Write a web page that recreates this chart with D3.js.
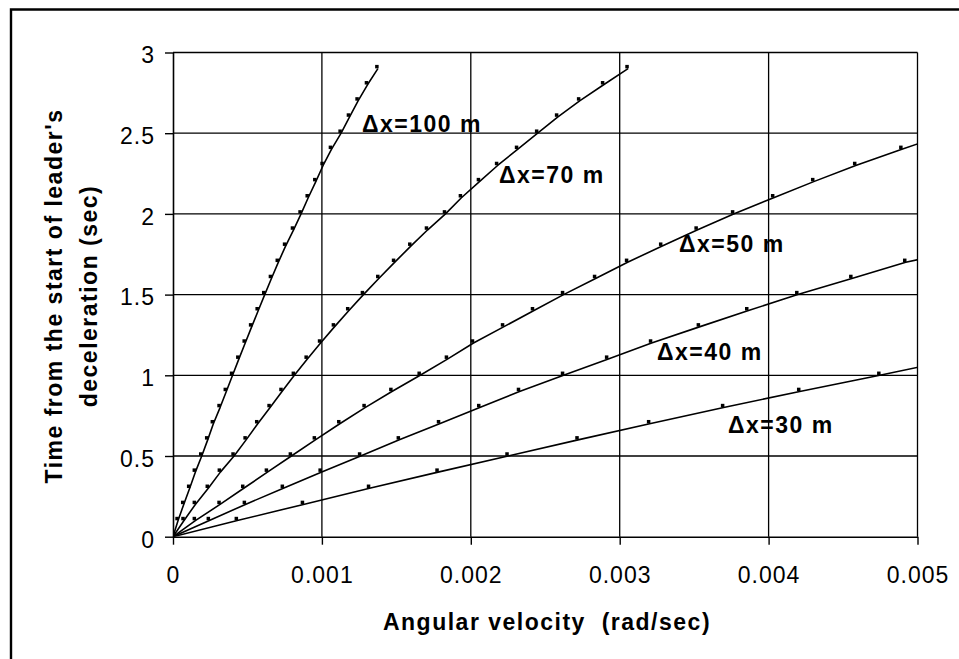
<!DOCTYPE html>
<html>
<head>
<meta charset="utf-8">
<script src="https://cdn.jsdelivr.net/npm/d3@7"></script>
<style>
  html, body { margin: 0; padding: 0; background: #fff; }
  svg { display: block; }
</style>
</head>
<body>
<svg id="chart" width="959" height="659"></svg>
<script>
// ---------------- DATA ----------------
// Angular velocity (rad/sec) vs time from start of leader's deceleration (sec)
const seriesNames = ["Δx=100 m", "Δx=70 m", "Δx=50 m", "Δx=40 m", "Δx=30 m"];

const origin = [0, 0];

const dx100 = [
  [0.000034,0.1],[0.000072,0.2],[0.000112,0.3],[0.000150,0.4],[0.000193,0.5],
  [0.000233,0.6],[0.000271,0.7],[0.000316,0.8],[0.000358,0.9],[0.000400,1.0],
  [0.000442,1.1],[0.000485,1.2],[0.000528,1.3],[0.000572,1.4],[0.000616,1.5],
  [0.000661,1.6],[0.000707,1.7],[0.000756,1.8],[0.000809,1.9],[0.000860,2.0],
  [0.000908,2.1],[0.000959,2.2],[0.001008,2.3],[0.001064,2.4],[0.001129,2.5],
  [0.001185,2.6],[0.001243,2.7],[0.001306,2.8],[0.001376,2.9]
];
const dx70 = [
  [0.000074,0.1],[0.000150,0.2],[0.000237,0.3],[0.000318,0.4],[0.000410,0.5],
  [0.000491,0.6],[0.000569,0.7],[0.000652,0.8],[0.000732,0.9],[0.000815,1.0],
  [0.000901,1.1],[0.000991,1.2],[0.001084,1.3],[0.001180,1.4],[0.001279,1.5],
  [0.001382,1.6],[0.001488,1.7],[0.001597,1.8],[0.001709,1.9],[0.001830,2.0],
  [0.001937,2.1],[0.002058,2.2],[0.002180,2.3],[0.002314,2.4],[0.002449,2.5],
  [0.002583,2.6],[0.002731,2.7],[0.002892,2.8],[0.003056,2.9]
];
const dx50 = [
  [0.000150,0.1],[0.000316,0.2],[0.000475,0.3],[0.000634,0.4],[0.000795,0.5],
  [0.000956,0.6],[0.001120,0.7],[0.001290,0.8],[0.001470,0.9],[0.001660,1.0],
  [0.001843,1.1],[0.002018,1.2],[0.002220,1.3],[0.002421,1.4],[0.002623,1.5],
  [0.002838,1.6],[0.003053,1.7],[0.003282,1.8],[0.003520,1.9],[0.003765,2.0],
  [0.004034,2.1],[0.004303,2.2],[0.004585,2.3],[0.004895,2.4]
];
const dx40 = [
  [0.000244,0.1],[0.000486,0.2],[0.000741,0.3],[0.000995,0.4],[0.001260,0.5],
  [0.001520,0.6],[0.001790,0.7],[0.002060,0.8],[0.002327,0.9],[0.002623,1.0],
  [0.002919,1.1],[0.003214,1.2],[0.003535,1.3],[0.003860,1.4],[0.004196,1.5],
  [0.004559,1.6],[0.004921,1.7]
];
const dx30 = [
  [0.000432,0.1],[0.000876,0.2],[0.001320,0.3],[0.001780,0.4],[0.002250,0.5],
  [0.002720,0.6],[0.003201,0.7],[0.003698,0.8],[0.004209,0.9],[0.004747,1.0]
];
// where the trend lines leave the plot on the right
const lineTails = [null, null, [0.00502, 2.44], [0.00502, 1.72], [0.00502, 1.053]];

const xTicks = [0, 0.001, 0.002, 0.003, 0.004, 0.005];
const xTickLabels = ["0", "0.001", "0.002", "0.003", "0.004", "0.005"];
const yTicks = [0, 0.5, 1, 1.5, 2, 2.5, 3];
const yTickLabels = ["0", "0.5", "1", "1.5", "2", "2.5", "3"];

const xTitle = "Angular velocity  (rad/sec)";
const yTitleLines = ["Time from the start of leader's", "deceleration (sec)"];

// ---------------- LAYOUT ----------------
const FONT = "'Liberation Sans', Arial, Helvetica, sans-serif";
const plot = { left: 173, right: 917.5, top: 52.5, bottom: 536.7 };
const labelPos = [
  { x: 362, y: 132 },
  { x: 499, y: 183 },
  { x: 679, y: 252 },
  { x: 657, y: 360 },
  { x: 728, y: 433 }
];

const svg = d3.select("#chart");
const x = d3.scaleLinear().domain([0, 0.005]).range([plot.left, plot.right]);
const y = d3.scaleLinear().domain([0, 3]).range([plot.bottom, plot.top]);

// outer frame (only top and left edges are inside the picture)
svg.append("path")
  .attr("d", "M11,659 V9.5 H959")
  .attr("fill", "none").attr("stroke", "#000").attr("stroke-width", 2.4);

// gridlines
const grid = svg.append("g").attr("stroke", "#000").attr("stroke-width", 1.3);
grid.selectAll("line.v").data(xTicks.filter(d => d > 0)).join("line")
  .attr("x1", d => x(d)).attr("x2", d => x(d))
  .attr("y1", y(0)).attr("y2", y(3));
grid.selectAll("line.h").data(yTicks.filter(d => d > 0)).join("line")
  .attr("x1", x(0)).attr("x2", x(0.005))
  .attr("y1", d => y(d)).attr("y2", d => y(d));

// axes
const xAxis = d3.axisBottom(x).tickValues(xTicks)
  .tickFormat((d, i) => xTickLabels[i]).tickSize(8).tickSizeOuter(0).tickPadding(22);
const yAxis = d3.axisLeft(y).tickValues(yTicks)
  .tickFormat((d, i) => yTickLabels[i]).tickSize(8).tickSizeOuter(0).tickPadding(10);

const gx = svg.append("g").attr("transform", `translate(0,${y(0)})`).call(xAxis);
const gy = svg.append("g").attr("transform", `translate(${x(0)},0)`).call(yAxis);
[gx, gy].forEach(g => {
  g.attr("font-family", FONT).attr("font-size", 23);
  g.select(".domain").attr("stroke", "#000").attr("stroke-width", 1.6);
  g.selectAll(".tick line").attr("stroke", "#000").attr("stroke-width", 1.4);
  g.selectAll(".tick text").attr("fill", "#000").style("letter-spacing", "1px");
});
gy.selectAll(".tick text").attr("dy", "0.45em");

// series
svg.append("clipPath").attr("id", "plotclip").append("rect")
  .attr("x", plot.left).attr("y", plot.top - 3)
  .attr("width", plot.right - plot.left).attr("height", plot.bottom - plot.top + 3);

const allSeries = [dx100, dx70, dx50, dx40, dx30];
const line = d3.line().x(d => x(d[0])).y(d => y(d[1]));
const gLines = svg.append("g").attr("clip-path", "url(#plotclip)");
allSeries.forEach((s, i) => {
  const pts = [origin].concat(s);
  if (lineTails[i]) pts.push(lineTails[i]);
  gLines.append("path").datum(pts)
    .attr("d", line)
    .attr("fill", "none").attr("stroke", "#000").attr("stroke-width", 1.6)
    .attr("stroke-linejoin", "round");
});
const gMarks = svg.append("g").attr("transform", "translate(-1,-2)");
allSeries.forEach(s => {
  gMarks.append("g").selectAll("rect").data(s).join("rect")
    .attr("x", d => x(d[0]) - 1.75).attr("y", d => y(d[1]) - 1.75)
    .attr("width", 3.5).attr("height", 3.5).attr("fill", "#000");
});

// series labels
svg.append("g").selectAll("text").data(seriesNames).join("text")
  .attr("x", (d, i) => labelPos[i].x).attr("y", (d, i) => labelPos[i].y)
  .attr("font-family", FONT).attr("font-size", 23).attr("font-weight", "bold")
  .style("letter-spacing", "1.5px")
  .text(d => d);

// axis titles
svg.append("text")
  .attr("x", 547).attr("y", 630).attr("text-anchor", "middle")
  .attr("font-family", FONT).attr("font-size", 23).attr("font-weight", "bold")
  .style("letter-spacing", "1.5px").style("white-space", "pre")
  .text(xTitle);

const gyt = svg.append("g").attr("transform", "translate(0,296) rotate(-90)");
gyt.selectAll("text").data(yTitleLines).join("text")
  .attr("x", 0).attr("y", (d, i) => i === 0 ? 62 : 97)
  .attr("text-anchor", "middle")
  .attr("font-family", FONT).attr("font-size", 23).attr("font-weight", "bold")
  .style("letter-spacing", "1.5px")
  .text(d => d);
</script>
</body>
</html>
